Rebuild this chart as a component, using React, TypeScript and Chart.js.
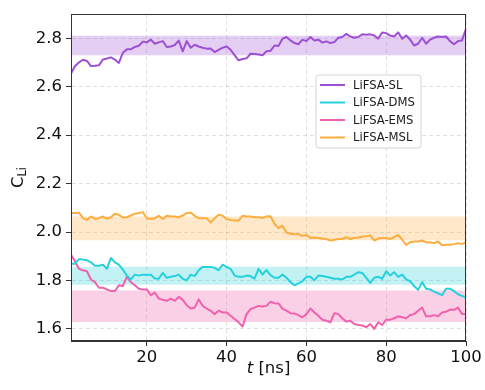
import React, { useEffect, useRef } from "react";
import { Chart, registerables } from "chart.js";

Chart.register(...registerables);

const TIMES_NS: number[] = Array.from({ length: 100 }, (_, i) => i + 1);

const SL: number[] = [
  2.654, 2.685, 2.700, 2.711, 2.706, 2.685, 2.686, 2.688, 2.712, 2.716,
  2.721, 2.712, 2.698, 2.740, 2.754, 2.754, 2.764, 2.769, 2.786, 2.783,
  2.794, 2.777, 2.783, 2.788, 2.764, 2.766, 2.772, 2.790, 2.746, 2.788,
  2.761, 2.773, 2.766, 2.761, 2.757, 2.758, 2.743, 2.752, 2.761, 2.766,
  2.752, 2.730, 2.709, 2.714, 2.717, 2.736, 2.735, 2.733, 2.730, 2.746,
  2.748, 2.770, 2.768, 2.798, 2.805, 2.791, 2.780, 2.775, 2.794, 2.788,
  2.805, 2.791, 2.794, 2.782, 2.787, 2.780, 2.784, 2.802, 2.805, 2.818,
  2.807, 2.802, 2.805, 2.816, 2.814, 2.816, 2.811, 2.798, 2.824, 2.821,
  2.811, 2.807, 2.824, 2.798, 2.811, 2.794, 2.770, 2.777, 2.802, 2.777,
  2.794, 2.802, 2.807, 2.805, 2.807, 2.788, 2.775, 2.788, 2.791, 2.839,
];

const DMS: number[] = [
  1.869, 1.869, 1.888, 1.886, 1.883, 1.875, 1.861, 1.861, 1.865, 1.848,
  1.893, 1.875, 1.865, 1.845, 1.820, 1.804, 1.824, 1.820, 1.824, 1.822,
  1.824, 1.808, 1.807, 1.831, 1.811, 1.815, 1.818, 1.824, 1.807, 1.800,
  1.824, 1.818, 1.842, 1.856, 1.856, 1.856, 1.852, 1.842, 1.865, 1.856,
  1.848, 1.820, 1.815, 1.815, 1.820, 1.818, 1.807, 1.848, 1.824, 1.843,
  1.822, 1.811, 1.811, 1.824, 1.811, 1.793, 1.780, 1.788, 1.797, 1.815,
  1.815, 1.801, 1.820, 1.818, 1.815, 1.811, 1.807, 1.807, 1.804, 1.815,
  1.815, 1.824, 1.834, 1.831, 1.811, 1.790, 1.811, 1.815, 1.807, 1.838,
  1.820, 1.834, 1.815, 1.824, 1.804, 1.797, 1.777, 1.761, 1.793, 1.766,
  1.763, 1.754, 1.747, 1.739, 1.766, 1.766, 1.756, 1.743, 1.736, 1.729,
];

const EMS: number[] = [
  1.906, 1.879, 1.848, 1.842, 1.838, 1.804, 1.793, 1.770, 1.770, 1.763,
  1.756, 1.756, 1.780, 1.777, 1.815, 1.793, 1.780, 1.766, 1.763, 1.763,
  1.739, 1.750, 1.725, 1.720, 1.716, 1.725, 1.716, 1.732, 1.720, 1.698,
  1.684, 1.688, 1.722, 1.695, 1.684, 1.675, 1.661, 1.675, 1.668, 1.668,
  1.654, 1.641, 1.627, 1.610, 1.661, 1.682, 1.688, 1.695, 1.692, 1.695,
  1.712, 1.706, 1.705, 1.684, 1.675, 1.665, 1.664, 1.657, 1.648, 1.661,
  1.684, 1.668, 1.654, 1.638, 1.634, 1.627, 1.665, 1.661, 1.644, 1.630,
  1.634, 1.620, 1.616, 1.614, 1.607, 1.620, 1.600, 1.627, 1.616, 1.638,
  1.638, 1.644, 1.652, 1.648, 1.644, 1.657, 1.661, 1.675, 1.688, 1.652,
  1.652, 1.657, 1.652, 1.668, 1.671, 1.679, 1.679, 1.688, 1.661, 1.661,
];

const MSL: number[] = [
  2.078, 2.078, 2.080, 2.057, 2.050, 2.064, 2.054, 2.057, 2.064, 2.054,
  2.061, 2.075, 2.071, 2.060, 2.061, 2.068, 2.075, 2.078, 2.082, 2.057,
  2.054, 2.057, 2.067, 2.054, 2.067, 2.064, 2.064, 2.061, 2.068, 2.078,
  2.080, 2.067, 2.057, 2.057, 2.057, 2.039, 2.057, 2.071, 2.067, 2.054,
  2.050, 2.047, 2.047, 2.067, 2.064, 2.064, 2.061, 2.061, 2.058, 2.064,
  2.065, 2.034, 2.016, 2.026, 1.998, 1.993, 1.991, 1.991, 1.984, 1.988,
  1.975, 1.977, 1.975, 1.973, 1.971, 1.965, 1.968, 1.971, 1.971, 1.979,
  1.971, 1.975, 1.977, 1.980, 1.983, 1.986, 1.965, 1.973, 1.975, 1.975,
  1.971, 1.979, 1.988, 1.968, 1.947, 1.958, 1.961, 1.961, 1.965, 1.957,
  1.958, 1.954, 1.961, 1.945, 1.947, 1.947, 1.950, 1.954, 1.950, 1.958,
];

const SERIES_NAMES: string[] = ["LiFSA-SL", "LiFSA-DMS", "LiFSA-EMS", "LiFSA-MSL"];
const SERIES_VALUES: number[][] = [SL, DMS, EMS, MSL];
const SERIES_COLORS: string[] = ["#9d50d4", "#26d0dc", "#f062ad", "#fdac3e"];
const BAND_COLORS: string[] = [
  "rgba(157,80,212,0.28)",
  "rgba(38,208,220,0.28)",
  "rgba(240,98,173,0.30)",
  "rgba(253,172,62,0.28)",
];
// [lower, upper] of the shaded range for each series
const BAND_LOW: number[] = [2.73, 1.782, 1.628, 1.966];
const BAND_HIGH: number[] = [2.81, 1.857, 1.758, 2.064];

const X_TICKS: number[] = [20, 40, 60, 80, 100];
const Y_TICKS: number[] = [1.6, 1.8, 2.0, 2.2, 2.4, 2.6, 2.8];
const X_MIN = 1;
const X_MAX = 100;
const Y_MIN = 1.55;
const Y_MAX = 2.9;

const FONT = "'DejaVu Sans', 'Liberation Sans', sans-serif";

export default function App() {
  const ref = useRef<HTMLCanvasElement | null>(null);

  useEffect(() => {
    const canvas = ref.current;
    if (!canvas) return;

    const datasets: any[] = [];
    SERIES_VALUES.forEach((vals, s) => {
      datasets.push({
        label: SERIES_NAMES[s],
        data: vals.map((v, i) => ({ x: TIMES_NS[i], y: v })),
        borderColor: SERIES_COLORS[s],
        backgroundColor: SERIES_COLORS[s],
        borderWidth: 2,
        pointRadius: 0,
        tension: 0,
        fill: false,
        order: 0,
        borderJoinStyle: "round",
      });
    });
    SERIES_VALUES.forEach((_, s) => {
      const hiIndex = datasets.length;
      datasets.push({
        label: "band-hi-" + s,
        data: [
          { x: X_MIN, y: BAND_HIGH[s] },
          { x: X_MAX, y: BAND_HIGH[s] },
        ],
        borderWidth: 0,
        borderColor: "rgba(0,0,0,0)",
        pointRadius: 0,
        backgroundColor: BAND_COLORS[s],
        fill: hiIndex + 1,
        order: 1,
      });
      datasets.push({
        label: "band-lo-" + s,
        data: [
          { x: X_MIN, y: BAND_LOW[s] },
          { x: X_MAX, y: BAND_LOW[s] },
        ],
        borderWidth: 0,
        borderColor: "rgba(0,0,0,0)",
        pointRadius: 0,
        backgroundColor: "rgba(0,0,0,0)",
        fill: false,
        order: 1,
      });
    });

    const framePlugin = {
      id: "frameAndText",
      afterDatasetsDraw(chart: any) {
        const ctx = chart.ctx as CanvasRenderingContext2D;
        const a = chart.chartArea;
        ctx.save();
        ctx.strokeStyle = "#333333";
        ctx.lineWidth = 1;
        ctx.setLineDash([]);
        ctx.strokeRect(a.left + 0.5, a.top + 0.5, a.right - a.left - 1, a.bottom - a.top - 1);

        // legend
        const bx = 316, by = 75, bw = 105, bh = 73, r = 3;
        ctx.beginPath();
        ctx.moveTo(bx + r, by);
        ctx.lineTo(bx + bw - r, by);
        ctx.quadraticCurveTo(bx + bw, by, bx + bw, by + r);
        ctx.lineTo(bx + bw, by + bh - r);
        ctx.quadraticCurveTo(bx + bw, by + bh, bx + bw - r, by + bh);
        ctx.lineTo(bx + r, by + bh);
        ctx.quadraticCurveTo(bx, by + bh, bx, by + bh - r);
        ctx.lineTo(bx, by + r);
        ctx.quadraticCurveTo(bx, by, bx + r, by);
        ctx.closePath();
        ctx.fillStyle = "rgba(255,255,255,0.85)";
        ctx.fill();
        ctx.strokeStyle = "#d4d4d4";
        ctx.lineWidth = 1;
        ctx.stroke();
        const rowY = [85, 102.5, 120, 137.5];
        SERIES_NAMES.forEach((name, s) => {
          ctx.strokeStyle = SERIES_COLORS[s];
          ctx.lineWidth = 2;
          ctx.beginPath();
          ctx.moveTo(320, rowY[s]);
          ctx.lineTo(345, rowY[s]);
          ctx.stroke();
          ctx.fillStyle = "#1a1a1a";
          ctx.font = "11.6px " + FONT;
          ctx.textBaseline = "middle";
          ctx.textAlign = "left";
          ctx.fillText(name, 353, rowY[s] + 0.5);
        });

        // x axis title: italic t + " [ns]"
        ctx.fillStyle = "#111111";
        ctx.textBaseline = "alphabetic";
        ctx.textAlign = "left";
        const fT = "italic 16.5px " + FONT;
        const fR = "16.5px " + FONT;
        ctx.font = fT;
        const wT = ctx.measureText("t").width;
        ctx.font = fR;
        const wR = ctx.measureText(" [ns]").width;
        const cx = (a.left + a.right) / 2;
        const sx = cx - (wT + wR) / 2;
        ctx.font = fT;
        ctx.fillText("t", sx, 373);
        ctx.font = fR;
        ctx.fillText(" [ns]", sx + wT, 373);

        // y axis title: C with subscript Li
        ctx.translate(23, (a.top + a.bottom) / 2);
        ctx.rotate(-Math.PI / 2);
        const fC = "16.5px " + FONT;
        const fS = "11.5px " + FONT;
        ctx.font = fC;
        const wC = ctx.measureText("C").width;
        ctx.font = fS;
        const wS = ctx.measureText("Li").width;
        const start = -(wC + wS) / 2;
        ctx.font = fC;
        ctx.fillText("C", start, 0);
        ctx.font = fS;
        ctx.fillText("Li", start + wC, 3);
        ctx.restore();
      },
    };

    const chart = new Chart(canvas, {
      type: "line",
      data: { datasets },
      options: {
        animation: false,
        responsive: false,
        devicePixelRatio: 1,
        layout: { padding: { top: 14, right: 19, left: 0, bottom: 0 } },
        plugins: {
          legend: { display: false },
          tooltip: { enabled: false },
          title: { display: false },
        },
        scales: {
          x: {
            type: "linear",
            min: X_MIN,
            max: X_MAX,
            afterBuildTicks: (scale: any) => {
              scale.ticks = X_TICKS.map((v) => ({ value: v }));
            },
            afterFit: (scale: any) => {
              scale.height = 49;
            },
            ticks: {
              color: "#111111",
              font: { family: FONT, size: 16.5 },
              padding: 2,
              maxRotation: 0,
              autoSkip: false,
              callback: (v: any) => String(v),
            },
            grid: {
              color: "rgba(0,0,0,0.12)",
              lineWidth: 1,
              drawTicks: true,
              tickLength: 5,
              tickColor: "#333333",
              tickBorderDash: [],
            } as any,
            border: { display: true, color: "#333333", width: 1, dash: [4, 3] } as any,
          },
          y: {
            type: "linear",
            min: Y_MIN,
            max: Y_MAX,
            afterBuildTicks: (scale: any) => {
              scale.ticks = Y_TICKS.map((v) => ({ value: v }));
            },
            afterFit: (scale: any) => {
              scale.width = 71;
            },
            ticks: {
              color: "#111111",
              font: { family: FONT, size: 16.5 },
              padding: 4,
              autoSkip: false,
              callback: (v: any) => Number(v).toFixed(1),
            },
            grid: {
              color: "rgba(0,0,0,0.12)",
              lineWidth: 1,
              drawTicks: true,
              tickLength: 5,
              tickColor: "#333333",
              tickBorderDash: [],
            } as any,
            border: { display: true, color: "#333333", width: 1, dash: [4, 3] } as any,
          },
        },
      },
      plugins: [framePlugin],
    });

    return () => {
      chart.destroy();
    };
  }, []);

  return (
    <div style={{ position: "fixed", left: 0, top: 0, width: 485, height: 390, background: "#ffffff" }}>
      <canvas ref={ref} width={485} height={390} style={{ width: 485, height: 390, display: "block" }} />
    </div>
  );
}
